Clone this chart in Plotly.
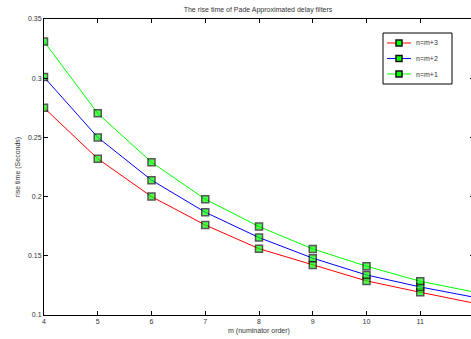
import plotly.graph_objects as go

m = [4, 5, 6, 7, 8, 9, 10, 11, 12]
rise_m3 = [0.275, 0.232, 0.200, 0.176, 0.156, 0.1423, 0.1288, 0.1192, 0.110]
rise_m2 = [0.301, 0.250, 0.2139, 0.1868, 0.1654, 0.148, 0.1338, 0.1237, 0.115]
rise_m1 = [0.331, 0.2703, 0.229, 0.1978, 0.1747, 0.1558, 0.1412, 0.1285, 0.1194]
series_names = ["n=m+3", "n=m+2", "n=m+1"]
series_colors = ["#ff0000", "#0000ff", "#00ff00"]

# figure slightly wider than the window: the reference is cropped at the right
W, H = 474, 339
L, R, T, B = 44, 0, 19, 24
PW, PH = W - L - R, H - T - B

def px(x):  # page pixel -> paper
    return (x - L) / PW

def py(y):
    return (H - B - y) / PH

fig = go.Figure()
sizes = [7] * (len(m) - 1) + [0]
for name, vals, col in zip(series_names, [rise_m3, rise_m2, rise_m1], series_colors):
    fig.add_trace(go.Scatter(
        x=m, y=vals, name=name, mode="lines+markers", showlegend=False,
        line=dict(color=col, width=1),
        marker=dict(symbol="square", size=sizes, color="#00ff00",
                    line=dict(color="#111111", width=1.5)),
    ))

# custom legend (MATLAB-like compact box)
shapes = [dict(type="rect", xref="paper", yref="paper",
               x0=px(383), x1=px(452), y0=py(84), y1=py(33),
               line=dict(color="black", width=1), fillcolor="white", layer="above")]
annotations = []
for i, (name, col) in enumerate(zip(series_names, series_colors)):
    yy = 43 + i * 15.5
    shapes.append(dict(type="line", xref="paper", yref="paper",
                       x0=px(387), x1=px(411), y0=py(yy), y1=py(yy),
                       line=dict(color=col, width=1), layer="above"))
    shapes.append(dict(type="rect", xref="paper", yref="paper",
                       x0=px(396), x1=px(402), y0=py(yy + 3), y1=py(yy - 3),
                       line=dict(color="#111111", width=1.5), fillcolor="#00ff00",
                       layer="above"))
    annotations.append(dict(text=name, xref="paper", yref="paper",
                            x=px(414), y=py(yy), xanchor="left", yanchor="middle",
                            showarrow=False, font=dict(size=7, color="#333333")))

font = dict(family="Liberation Sans, Arial, sans-serif", size=7, color="#333333")
fig.update_layout(
    width=W, height=H,
    margin=dict(l=L, r=R, t=T, b=B, autoexpand=False),
    paper_bgcolor="white", plot_bgcolor="white",
    font=font,
    title=dict(text="The rise time of Pade Approximated delay filters",
               x=258 / W, xanchor="center", yref="container",
               y=1 - 10 / H, yanchor="middle",
               font=dict(size=7, color="#333333")),
    showlegend=False,
    shapes=shapes,
    annotations=annotations,
    xaxis=dict(range=[4, 12], tickvals=[4, 5, 6, 7, 8, 9, 10, 11],
               ticks="inside", ticklen=4, tickcolor="black",
               showline=True, linecolor="black", linewidth=1, mirror="ticks",
               showgrid=False, zeroline=False, automargin=False,
               title=dict(text="m (numinator order)", standoff=3, font=dict(size=7))),
    yaxis=dict(range=[0.1, 0.35], tickvals=[0.1, 0.15, 0.2, 0.25, 0.3, 0.35],
               ticktext=["0.1", "0.15", "0.2", "0.25", "0.3", "0.35"],
               ticks="inside", ticklen=4, tickcolor="black",
               showline=True, linecolor="black", linewidth=1, mirror="ticks",
               showgrid=False, zeroline=False, automargin=False,
               title=dict(text="rise time (Seconds)", standoff=6, font=dict(size=7))),
)
fig.write_html(
    "out.html",
    config={"displayModeBar": False},
    post_script="document.body.style.margin='0';document.body.style.overflow='hidden';"
                "document.documentElement.style.overflow='hidden';",
)
